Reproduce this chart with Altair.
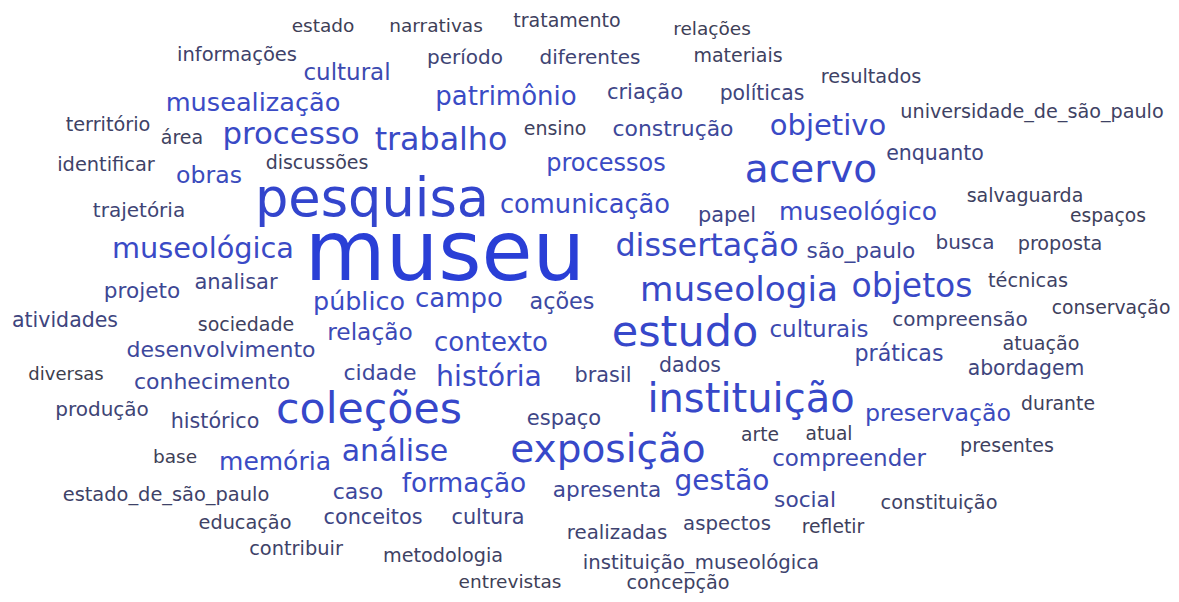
import altair as alt
import pandas as pd

words = [
    "estado", "narrativas", "tratamento", "relações", "informações", "período", "diferentes", "materiais",
    "cultural", "resultados", "patrimônio", "criação", "políticas", "musealização", "território", "área",
    "processo", "trabalho", "ensino", "construção", "objetivo", "universidade_de_são_paulo", "identificar",
    "discussões", "obras", "processos", "acervo", "enquanto", "pesquisa", "comunicação", "trajetória",
    "papel", "museológico", "salvaguarda", "espaços", "museológica", "museu", "dissertação", "são_paulo",
    "busca", "proposta", "analisar", "projeto", "museologia", "objetos", "técnicas", "público", "campo",
    "ações", "atividades", "sociedade", "conservação", "estudo", "relação", "culturais", "compreensão",
    "contexto", "desenvolvimento", "práticas", "atuação", "dados", "diversas", "conhecimento", "cidade",
    "história", "brasil", "abordagem", "instituição", "coleções", "produção", "histórico", "espaço",
    "preservação", "durante", "arte", "atual", "base", "memória", "análise", "exposição", "compreender",
    "presentes", "estado_de_são_paulo", "caso", "formação", "apresenta", "gestão", "social", "constituição",
    "educação", "conceitos", "cultura", "realizadas", "aspectos", "refletir", "contribuir", "metodologia",
    "instituição_museológica", "entrevistas", "concepção",
]

# relative weight of each word (drives font size and colour)
weight = [
    18.5, 18.5, 19, 18.5, 19.5, 20, 20, 19,
    23, 19.3, 26, 21, 20.4, 25.6, 19.3, 19,
    30.8, 31.7, 19, 21.9, 29, 19.2, 19.4,
    19, 23.6, 24, 39, 20.5, 52.6, 25.7, 20,
    20.9, 25, 19, 18.7, 28.8, 83, 31.8, 21.7,
    20, 19.2, 21, 21.6, 34.3, 33, 19.3, 25.4, 26,
    22.3, 20.5, 19, 18.8, 43, 23.3, 23, 20,
    26, 22, 22.2, 19.1, 20.5, 18, 22, 22,
    28.3, 20.8, 20.4, 40, 42.7, 20, 20.7, 21,
    23.7, 18.8, 18.7, 18.6, 18.5, 25, 30, 39, 23,
    19, 19.4, 22, 26.4, 21.6, 28, 21.7, 19.3,
    19.3, 20.8, 20.8, 19.8, 19.7, 18.8, 19.4, 19.2,
    19.7, 18.5, 19.2,
]

# word-cloud layout coordinates
layout_x = [
    323, 436, 567, 712, 237, 465, 590, 738,
    347, 871, 506, 645, 762, 253, 108, 182,
    291, 441, 555, 673, 828, 1032, 106,
    317, 209, 606, 811, 935, 372, 585, 139,
    727, 858, 1025, 1108, 203, 445, 707, 861,
    965, 1060, 236, 142, 739, 912, 1028, 359, 459,
    562, 65, 246, 1111, 685, 370, 819, 960,
    491, 221, 899, 1041, 690, 66, 212, 380,
    489, 603, 1026, 751, 369, 102, 215, 564,
    938, 1058, 760, 829, 175, 275, 395, 608, 849,
    1007, 166, 358, 464, 607, 722, 805, 939,
    245, 373, 488, 617, 727, 833, 296, 443,
    701, 510, 678,
]
layout_y = [
    26, 26, 21, 29, 55, 58, 58, 56,
    73, 77, 97, 93, 94, 103, 125, 138,
    135, 140, 129, 129, 126, 112, 165,
    163, 176, 164, 170, 154, 200, 205, 211,
    216, 212, 196, 216, 249, 255, 246, 251,
    243, 244, 283, 292, 291, 287, 281, 302, 299,
    302, 321, 325, 308, 333, 333, 330, 320,
    343, 350, 354, 344, 366, 375, 382, 373,
    378, 376, 369, 400, 410, 410, 422, 419,
    414, 404, 435, 434, 457, 462, 452, 450, 459,
    446, 495, 492, 484, 491, 482, 500, 503,
    523, 518, 518, 533, 524, 527, 549, 556,
    563, 582, 583,
]

df = pd.DataFrame({"word": words, "weight": weight, "x": layout_x, "y": layout_y})

chart = (
    alt.Chart(df)
    .mark_text(font="DejaVu Sans", align="center", baseline="middle")
    .encode(
        x=alt.X("x:Q", scale=alt.Scale(domain=[8, 1171]), axis=None),
        y=alt.Y("y:Q", scale=alt.Scale(domain=[8, 594], reverse=True), axis=None),
        size=alt.Size("weight:Q", scale=None, legend=None),
        color=alt.Color(
            "weight:Q",
            scale=alt.Scale(domain=[19, 24, 83], range=["#3e4160", "#3b4bc4", "#2a3fd6"]),
            legend=None,
        ),
        text="word:N",
    )
    .properties(
        width=1163,
        height=586,
        padding=0,
        autosize=alt.AutoSizeParams(type="none"),
        background="white",
    )
    .configure_view(stroke=None)
)

chart.save("out.html", embed_options={"renderer": "svg", "actions": False})
